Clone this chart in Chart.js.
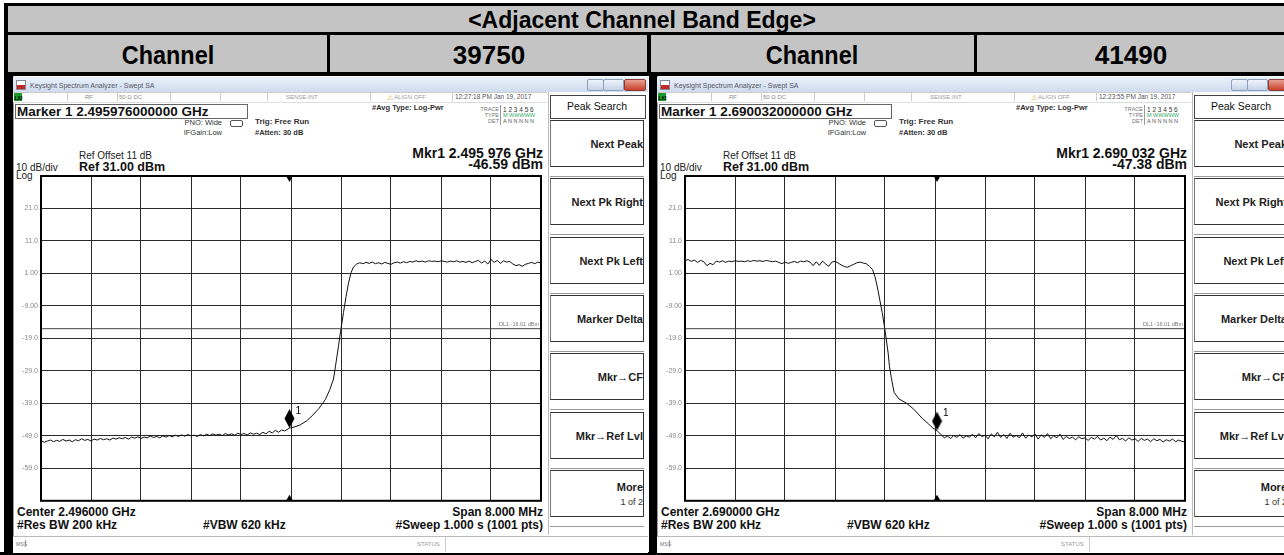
<!DOCTYPE html>
<html><head><meta charset="utf-8">
<script src="https://cdn.jsdelivr.net/npm/chart.js@4.4.0/dist/chart.umd.min.js"></script>
<style>
html,body{margin:0;padding:0;background:#fff;}
body{width:1284px;height:555px;overflow:hidden;position:relative;font-family:"Liberation Sans",Arial,sans-serif;color:#000;}
.a{position:absolute;white-space:nowrap;line-height:1;}
.b{position:absolute;}
canvas{position:absolute;}
</style></head><body>
<script>
// ---------------- DATA ----------------
const titleText = "<Adjacent Channel Band Edge>";
const headerCells = ["Channel", "39750", "Channel", "41490"];

const yTickValues = [21, 11, 1, -9, -19, -29, -39, -49, -59];
const yTickLabels = ["21.0", "11.0", "1.00", "-9.00", "-19.0", "-29.0", "-39.0", "-49.0", "-59.0"];
const refLevel = 31;      // dBm, top of screen
const bottomLevel = -69;  // dBm, bottom of screen
const displayLine = -16.01;

// left sweep: 2.492 - 2.500 GHz (MHz)
const leftSpanMHz = [2492, 2500];
const leftFreq = [
  2492.00,2492.05,2492.10,2492.15,2492.20,2492.25,2492.30,2492.35,2492.40,2492.45,
  2492.50,2492.55,2492.60,2492.65,2492.70,2492.75,2492.80,2492.85,2492.90,2492.95,
  2493.00,2493.05,2493.10,2493.15,2493.20,2493.25,2493.30,2493.35,2493.40,2493.45,
  2493.50,2493.55,2493.60,2493.65,2493.70,2493.75,2493.80,2493.85,2493.90,2493.95,
  2494.00,2494.05,2494.10,2494.15,2494.20,2494.25,2494.30,2494.35,2494.40,2494.45,
  2494.50,2494.55,2494.60,2494.65,2494.70,2494.75,2494.80,2494.85,2494.90,2494.95,
  2495.00,2495.05,2495.10,2495.15,2495.20,2495.25,2495.30,2495.35,2495.40,2495.45,
  2495.50,2495.55,2495.60,2495.65,2495.70,2495.75,2495.80,2495.85,2495.90,2495.95,
  2495.976,2496.05,2496.15,2496.25,2496.35,2496.45,2496.55,2496.62,2496.68,2496.72,
  2496.76,2496.80,2496.84,2496.88,2496.92,2496.96,2497.00,2497.05,
  2497.10,2497.15,2497.20,2497.25,2497.30,2497.35,2497.40,2497.45,2497.50,2497.55,
  2497.60,2497.65,2497.70,2497.75,2497.80,2497.85,2497.90,2497.95,2498.00,2498.05,
  2498.10,2498.15,2498.20,2498.25,2498.30,2498.35,2498.40,2498.45,2498.50,2498.55,
  2498.60,2498.65,2498.70,2498.75,2498.80,2498.85,2498.90,2498.95,2499.00,2499.05,
  2499.10,2499.15,2499.20,2499.25,2499.30,2499.35,2499.40,2499.45,2499.50,2499.55,
  2499.60,2499.65,2499.70,2499.75,2499.80,2499.85,2499.90,2499.95,2500.00];
const leftLevel = [
  -50.4,-51.0,-50.6,-50.3,-50.8,-50.4,-50.7,-50.1,-50.6,-50.3,
  -50.8,-50.2,-50.5,-49.9,-50.4,-50.1,-50.6,-50.0,-50.3,-49.8,
  -50.2,-49.9,-50.3,-49.7,-50.0,-49.6,-49.9,-49.5,-50.0,-49.4,
  -49.7,-49.3,-49.8,-49.4,-49.6,-49.1,-49.5,-49.2,-49.6,-49.0,
  -49.4,-48.9,-49.3,-48.8,-49.2,-48.7,-49.1,-48.6,-49.0,-48.8,
  -49.2,-48.6,-49.0,-48.5,-48.9,-48.4,-48.8,-48.5,-48.9,-48.3,
  -48.7,-48.4,-48.8,-48.2,-48.6,-48.3,-48.7,-48.1,-48.5,-48.2,
  -48.6,-47.9,-48.4,-47.6,-48.1,-47.3,-47.9,-47.2,-47.5,-46.9,
  -46.59,-46.3,-45.6,-44.4,-42.6,-40.5,-37.8,-34.8,-31.5,-26.5,
  -21.3,-16.0,-11.0,-6.2,-2.0,1.2,3.0,3.9,
  4.3,4.0,4.4,4.1,4.5,4.0,4.3,3.9,4.4,4.1,
  3.8,4.3,4.5,4.2,4.6,4.3,4.7,4.5,4.9,4.6,
  4.8,4.5,4.9,4.7,4.8,4.6,4.9,4.7,4.5,4.8,
  4.6,4.9,4.5,4.7,4.4,4.8,4.3,4.7,5.0,4.2,
  4.8,3.9,5.3,4.4,5.0,4.1,4.9,4.5,4.7,3.9,
  3.4,3.7,3.2,3.8,4.1,4.4,4.0,4.5,4.2];

// right sweep: 2.686 - 2.694 GHz (MHz)
const rightSpanMHz = [2686, 2694];
const rightFreq = [
  2686.00,2686.05,2686.10,2686.15,2686.20,2686.25,2686.30,2686.35,2686.40,2686.45,
  2686.50,2686.55,2686.60,2686.65,2686.70,2686.75,2686.80,2686.85,2686.90,2686.95,
  2687.00,2687.05,2687.10,2687.15,2687.20,2687.25,2687.30,2687.35,2687.40,2687.45,
  2687.50,2687.55,2687.60,2687.65,2687.70,2687.75,2687.80,2687.85,2687.90,2687.95,
  2688.00,2688.05,2688.10,2688.15,2688.20,2688.25,2688.30,2688.35,2688.40,2688.45,
  2688.50,2688.55,2688.60,2688.65,2688.70,2688.75,2688.80,2688.85,2688.90,2688.95,
  2689.00,2689.04,2689.085,2689.12,2689.155,2689.19,2689.22,2689.25,2689.27,2689.30,
  2689.345,2689.42,2689.54,2689.66,2689.80,2689.90,2689.965,2690.032,
  2690.10,2690.15,2690.20,2690.25,2690.30,2690.35,2690.40,2690.45,2690.50,2690.55,
  2690.60,2690.65,2690.70,2690.75,2690.80,2690.85,2690.90,2690.95,2691.00,2691.05,
  2691.10,2691.15,2691.20,2691.25,2691.30,2691.35,2691.40,2691.45,2691.50,2691.55,
  2691.60,2691.65,2691.70,2691.75,2691.80,2691.85,2691.90,2691.95,2692.00,2692.05,
  2692.10,2692.15,2692.20,2692.25,2692.30,2692.35,2692.40,2692.45,2692.50,2692.55,
  2692.60,2692.65,2692.70,2692.75,2692.80,2692.85,2692.90,2692.95,2693.00,2693.05,
  2693.10,2693.15,2693.20,2693.25,2693.30,2693.35,2693.40,2693.45,2693.50,2693.55,
  2693.60,2693.65,2693.70,2693.75,2693.80,2693.85,2693.90,2693.95,2694.00];
const rightLevel = [
  4.9,5.3,4.7,5.1,4.4,5.0,4.6,3.4,4.1,3.7,
  4.8,4.5,4.9,4.4,4.8,4.6,4.9,4.7,4.8,4.6,
  4.9,4.7,5.0,4.8,4.9,4.7,5.0,4.8,4.6,4.8,
  4.4,4.0,4.5,4.1,4.4,4.7,4.3,4.8,4.6,4.9,
  4.5,3.4,4.6,3.5,4.8,3.9,3.2,4.5,4.7,4.2,
  3.6,3.1,2.9,3.4,3.8,4.3,4.5,4.2,4.0,3.2,
  2.2,0.0,-3.9,-7.5,-11.0,-15.2,-19.2,-23.5,-27.4,-31.0,
  -35.6,-37.6,-38.9,-40.8,-43.7,-45.4,-46.6,-47.38,
  -48.7,-49.6,-49.1,-49.8,-48.9,-49.5,-48.6,-49.7,-49.0,-49.4,
  -48.5,-49.6,-48.3,-49.2,-48.8,-49.9,-48.4,-49.3,-47.9,-49.5,
  -48.6,-49.8,-48.2,-49.4,-48.9,-49.6,-48.1,-49.7,-48.8,-49.3,
  -48.4,-50.0,-48.7,-49.5,-48.3,-49.9,-49.0,-49.6,-48.5,-50.1,
  -49.2,-49.8,-49.4,-50.2,-49.3,-49.9,-49.6,-50.4,-49.5,-50.0,
  -49.2,-50.3,-49.7,-50.5,-49.4,-50.1,-48.9,-50.2,-49.8,-50.6,
  -49.6,-50.3,-49.9,-50.7,-49.8,-50.4,-50.0,-50.8,-49.9,-50.5,
  -50.1,-50.9,-50.2,-50.6,-50.0,-50.8,-50.3,-50.7,-50.9];

const leftMarker = {freq: 2495.976, level: -46.59};
const rightMarker = {freq: 2690.032, level: -47.38};

const leftTexts = {
  marker: "Marker 1 2.495976000000 GHz", time: "12:27:18 PM Jan 19, 2017",
  mkr: "Mkr1 2.495 976 GHz", mkrLvl: "-46.59 dBm", center: "Center 2.496000 GHz"
};
const rightTexts = {
  marker: "Marker 1 2.690032000000 GHz", time: "12:23:55 PM Jan 19, 2017",
  mkr: "Mkr1 2.690 032 GHz", mkrLvl: "-47.38 dBm", center: "Center 2.690000 GHz"
};
const menuKeys = ["Next Peak", "Next Pk Right", "Next Pk Left", "Marker Delta", "Mkr\u2192CF", "Mkr\u2192Ref Lvl", "More"];

// ---------------- HTML helpers ----------------
function box(x, y, w, h, style) {
  const d = document.createElement('div'); d.className = 'b';
  d.style.cssText = `left:${x}px;top:${y}px;width:${w}px;height:${h}px;` + (style || '');
  document.body.appendChild(d); return d;
}
function txt(x, y, s, style, align, sx) {
  const d = document.createElement('div'); d.className = 'a'; d.textContent = s;
  let tr = 'translateY(-50%)';
  let pos;
  if (align === 'right') { pos = `right:${1284 - x}px;`; d.style.transformOrigin = 'right center'; }
  else if (align === 'center') { pos = `left:${x}px;`; tr = 'translate(-50%,-50%)'; }
  else pos = `left:${x}px;`;
  if (sx) tr += ` scaleX(${sx})`;
  d.style.cssText = pos + `top:${y}px;` + (style || '') + `;transform:${tr};`;
  document.body.appendChild(d); return d;
}

// ---------------- table ----------------
box(0, 0, 1284, 555, 'background:#fff');
box(4, 3, 1284, 73, 'background:#000');
box(8, 6, 1276, 26, 'background:#c4c4c4');
box(8, 35, 319, 37, 'background:#c4c4c4');
box(330, 35, 317, 37, 'background:#c4c4c4');
box(651, 35, 323, 37, 'background:#c4c4c4');
box(977, 35, 307, 37, 'background:#c4c4c4');
box(4, 72, 9, 483, 'background:#000');
box(647, 72, 10, 483, 'background:#000');
box(0, 552, 1284, 3, 'background:#000');
txt(642, 19.5, titleText, 'font-weight:bold;font-size:23px;', 'center');
const hc = [168, 489, 812, 1131];
headerCells.forEach((s, i) => txt(hc[i], 54.5, s, 'font-weight:bold;font-size:26px;', 'center', i % 2 === 0 ? 0.9 : 1));

// ---------------- analyzer panel ----------------
function panel(ox, T, canvasId) {
  const X = v => v + ox;
  box(X(13), 76, 635, 476, 'background:#fff;border-left:1px solid #999;');
  // title bar
  box(X(13), 77, 635, 15, 'background:linear-gradient(#e9f0f9,#cfdcee);');
  box(X(16), 80, 8, 8, 'background:linear-gradient(#fff 0 55%,#c0282a 55% 100%);border:1px solid #889;');
  txt(X(30), 85, "Keysight Spectrum Analyzer - Swept SA", 'font-size:7px;color:#556;');
  box(X(587), 79, 15, 10, 'background:linear-gradient(#eef3fa,#c6d4e8);border:1px solid #8da0bd;border-radius:2px;');
  box(X(603), 79, 19, 10, 'background:linear-gradient(#eef3fa,#c6d4e8);border:1px solid #8da0bd;border-radius:2px;');
  box(X(624), 79, 20, 10, 'background:linear-gradient(#e8a092,#c8402c);border:1px solid #8a3a30;border-radius:2px;');
  // status row
  box(X(13), 92, 534, 9, 'background:#fff;border-top:1px solid #ccc;border-bottom:1px solid #ddd;');
  box(X(14), 93, 8, 8, 'background:#1d9a2c;');
  txt(X(14.5), 97.5, "LXI", 'font-size:5px;color:#000;font-weight:bold;');
  [67, 117, 170, 220, 267, 370, 452].forEach(v => box(X(v), 93, 1, 8, 'background:#ccc;'));
  txt(X(85), 97, "RF", 'font-size:6px;color:#888;');
  txt(X(119), 97, "50 \u03A9   DC", 'font-size:6px;color:#888;');
  txt(X(286), 97, "SENSE:INT", 'font-size:6px;color:#999;');
  txt(X(387), 97, "\u26A0", 'font-size:7px;color:#c8a000;');
  txt(X(394), 97, "ALIGN OFF", 'font-size:6px;color:#999;');
  txt(X(455), 97, T.time, 'font-size:6.5px;color:#555;');
  // marker box
  box(X(15), 104, 231, 13, 'border:1px solid #666;');
  txt(X(17), 111.5, T.marker, 'font-size:13.5px;font-weight:bold;color:#111;');
  txt(X(222), 123, "PNO: Wide", 'font-size:7.5px;color:#333;', 'right');
  txt(X(222), 133, "IFGain:Low", 'font-size:7.5px;color:#333;', 'right');
  box(X(230), 120, 11, 5, 'border:1px solid #555;border-radius:2px;');
  txt(X(255), 122, "Trig: Free Run", 'font-size:8px;font-weight:bold;color:#333;');
  txt(X(255), 133, "#Atten: 30 dB", 'font-size:7.5px;font-weight:bold;color:#333;');
  txt(X(79), 156, "Ref Offset 11 dB", 'font-size:10px;color:#222;');
  txt(X(79), 166.5, "Ref 31.00 dBm", 'font-size:12.5px;font-weight:bold;color:#111;');
  txt(X(16), 168, "10 dB/div", 'font-size:10px;color:#222;');
  txt(X(16), 175.5, "Log", 'font-size:10px;color:#222;');
  txt(X(372), 108, "#Avg Type: Log-Pwr", 'font-size:7.5px;font-weight:bold;color:#333;');
  txt(X(499), 110, "TRACE", 'font-size:5.5px;color:#777;', 'right');
  txt(X(499), 116, "TYPE", 'font-size:5.5px;color:#777;', 'right');
  txt(X(499), 122, "DET", 'font-size:5.5px;color:#777;', 'right');
  box(X(500), 105, 1, 20, 'background:#999;');
  txt(X(503), 110, "1 2 3 4 5 6", 'font-size:6.5px;color:#333;');
  txt(X(503), 116, "M WWWWW", 'font-size:5.5px;color:#3a6;');
  txt(X(503), 122, "A N N N N N", 'font-size:5.5px;color:#555;');
  txt(X(543), 153, T.mkr, 'font-size:14px;font-weight:bold;color:#111;', 'right');
  txt(X(543), 163.5, T.mkrLvl, 'font-size:14px;font-weight:bold;color:#111;', 'right');
  // menu
  box(X(548), 92, 97, 443, 'background:#fff;border-left:1px solid #bbb;');
  box(X(550), 95, 94, 22, 'border:1px solid #444;background:#fff;');
  txt(X(597), 106, "Peak Search", 'font-size:10.5px;color:#111;', 'center');
  const tops = [120, 178, 237, 295, 353, 412, 470];
  tops.forEach((t, i) => {
    box(X(550), t, 94, 47, 'border:1.5px solid #333;border-left-color:#777;background:#fff;box-sizing:border-box;');
    box(X(550), t + 48, 94, 8, 'border-bottom:1px solid #999;');
    const cy = i === 6 ? t + 17 : t + 24;
    txt(X(643), cy, menuKeys[i], 'font-size:11px;font-weight:bold;color:#222;', 'right');
  });
  txt(X(643), 502, "1 of 2", 'font-size:9px;color:#333;', 'right');
  // bottom texts
  txt(X(17), 512, T.center, 'font-size:12px;font-weight:bold;color:#111;');
  txt(X(17), 525, "#Res BW 200 kHz", 'font-size:12px;font-weight:bold;color:#111;');
  txt(X(203), 525, "#VBW 620 kHz", 'font-size:12px;font-weight:bold;color:#111;');
  txt(X(543), 512, "Span 8.000 MHz", 'font-size:12px;font-weight:bold;color:#111;', 'right');
  txt(X(543), 525, "#Sweep  1.000 s (1001 pts)", 'font-size:12px;font-weight:bold;color:#111;', 'right');
  box(X(13), 536, 635, 16, 'background:#fff;border-top:1px solid #bbb;');
  txt(X(16), 544, "MSG", 'font-size:5px;color:#777;');
  box(X(25), 540, 1, 7, 'background:#999;');
  txt(X(417), 544, "STATUS", 'font-size:6px;color:#999;');
  box(X(445), 537, 1, 15, 'background:#ccc;');
  // chart canvas
  const c = document.createElement('canvas');
  c.id = canvasId; c.width = 535; c.height = 342;
  c.style.left = X(13) + 'px'; c.style.top = '166px';
  document.body.appendChild(c);
  return c;
}

const lc = panel(0, leftTexts, 'cl');
const rc = panel(644, rightTexts, 'cr');

// ---------------- charts ----------------
function diamond() {
  const c = document.createElement('canvas'); c.width = 11; c.height = 40;
  const g = c.getContext('2d');
  g.fillStyle = '#000'; g.beginPath();
  g.moveTo(5.5, 1); g.lineTo(10.5, 10.5); g.lineTo(5.5, 20); g.lineTo(0.5, 10.5); g.closePath(); g.fill();
  return c;
}
const annot = {
  id: 'annot',
  afterDatasetsDraw(chart, args, o) {
    const {ctx, chartArea: a, scales: {x, y}} = chart;
    ctx.save();
    const dy = y.getPixelForValue(displayLine);
    ctx.font = '5.5px "Liberation Sans"'; ctx.fillStyle = '#777';
    ctx.textAlign = 'right'; ctx.textBaseline = 'bottom';
    ctx.fillText('DL1 -16.01 dBm', a.right - 2, dy - 1);
    const mx = x.getPixelForValue(o.m.freq), my = y.getPixelForValue(o.m.level);
    ctx.font = '10px "Liberation Sans"'; ctx.fillStyle = '#000';
    ctx.textAlign = 'left'; ctx.textBaseline = 'middle';
    ctx.fillText('1', mx + 6, my - 17);
    ctx.beginPath();
    ctx.moveTo(mx - 3.5, a.top); ctx.lineTo(mx + 3.5, a.top); ctx.lineTo(mx, a.top + 6); ctx.closePath(); ctx.fill();
    ctx.beginPath();
    ctx.moveTo(mx - 3.5, a.bottom); ctx.lineTo(mx + 3.5, a.bottom); ctx.lineTo(mx, a.bottom - 6); ctx.closePath(); ctx.fill();
    ctx.strokeStyle = '#000'; ctx.lineWidth = 2;
    ctx.strokeRect(a.left, a.top, a.width, a.height);
    ctx.restore();
  }
};
function makeChart(canvas, span, freq, level, marker) {
  const trace = freq.map((f, i) => ({x: f, y: level[i]}));
  return new Chart(canvas, {
    type: 'line',
    data: {datasets: [
      {data: [{x: span[0], y: displayLine}, {x: span[1], y: displayLine}], borderColor: '#444', borderWidth: 1, pointRadius: 0},
      {data: trace, borderColor: '#111', borderWidth: 1, pointRadius: 0, tension: 0},
      {type: 'scatter', data: [{x: marker.freq, y: marker.level}], pointStyle: diamond(), pointRadius: 6, clip: false}
    ]},
    plugins: [annot],
    options: {
      responsive: false, animation: false, events: [],
      layout: {padding: {left: 0, top: 10, right: 4, bottom: 6}},
      plugins: {legend: {display: false}, tooltip: {enabled: false}, annot: {m: marker}},
      scales: {
        x: {type: 'linear', min: span[0], max: span[1],
            ticks: {display: false, stepSize: (span[1] - span[0]) / 10},
            grid: {color: '#2a2a2a', lineWidth: 1, drawTicks: false}, border: {display: false},
            afterFit: s => { s.height = 0; }},
        y: {type: 'linear', min: bottomLevel, max: refLevel,
            ticks: {stepSize: 10, padding: 3, color: '#888', font: {size: 7, family: 'Liberation Sans'},
                    callback: v => { const k = yTickValues.indexOf(v); return k < 0 ? '' : yTickLabels[k]; }},
            grid: {color: '#2a2a2a', lineWidth: 1, drawTicks: false}, border: {display: false},
            afterFit: s => { s.width = 28; }}
      }
    }
  });
}
makeChart(lc, leftSpanMHz, leftFreq, leftLevel, leftMarker);
makeChart(rc, rightSpanMHz, rightFreq, rightLevel, rightMarker);
</script>
</body></html>
